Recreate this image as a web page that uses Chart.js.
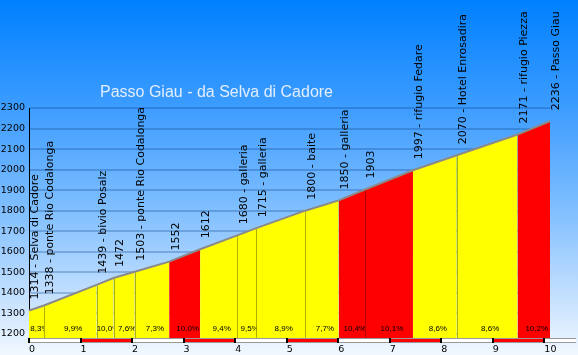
<!DOCTYPE html>
<html><head><meta charset="utf-8">
<script src="https://cdn.jsdelivr.net/npm/chart.js@4.4.1/dist/chart.umd.min.js"></script>
<style>html,body{margin:0;padding:0;background:#fff}#c{display:block}</style>
</head><body>
<canvas id="c" width="578" height="355"></canvas>
<script>
const TITLE = 'Passo Giau - da Selva di Cadore';
const km = [0, 0.29, 1.31, 1.64, 2.05, 2.72, 3.32, 4.04, 4.41, 5.36, 6.01, 6.52, 7.45, 8.30, 9.48, 10.11];
const altitude = [1314, 1338, 1439, 1472, 1503, 1552, 1612, 1680, 1715, 1800, 1850, 1903, 1997, 2070, 2171, 2236];
const placeNames = ['Selva di Cadore', 'ponte Rio Codalonga', 'bivio Posalz', '', 'ponte Rio Codalonga', '', '', 'galleria', 'galleria', 'baite', 'galleria', '', 'rifugio Fedare', 'Hotel Enrosadira', 'rifugio Piezza', 'Passo Giau'];
const gradients = ['8,3%', '9,9%', '10,0%', '7,6%', '7,3%', '10,0%', '9,4%', '9,5%', '8,9%', '7,7%', '10,4%', '10,1%', '8,6%', '8,6%', '10,2%'];
const steep = [false, false, false, false, false, true, false, false, false, false, true, true, false, false, true];
const yTicks = [1200, 1300, 1400, 1500, 1600, 1700, 1800, 1900, 2000, 2100, 2200, 2300];
const xTicks = [0, 1, 2, 3, 4, 5, 6, 7, 8, 9, 10];

const YELLOW = '#ffff00', RED = '#ff0000';
const pts = km.map((k, i) => ({ x: k, y: altitude[i] }));

const datasets = [{
  data: pts, borderColor: '#8a8a8a', borderWidth: 2, pointRadius: 0,
  fill: false, tension: 0, order: 0
}];
for (let i = 0; i < gradients.length; i++) {
  datasets.push({
    data: [pts[i], pts[i + 1]], backgroundColor: steep[i] ? RED : YELLOW,
    borderColor: 'transparent', borderWidth: 0, pointRadius: 0,
    fill: 'start', tension: 0, order: 1
  });
}

const decor = {
  id: 'decor',
  beforeDraw(chart) {
    const ctx = chart.ctx, W = chart.width, H = chart.height;
    const g = ctx.createLinearGradient(0, 0, 0, H);
    g.addColorStop(0, '#0080ff');
    g.addColorStop(0.3, '#3c9cff');
    g.addColorStop(0.6, '#82c0ff');
    g.addColorStop(0.85, '#c8e2ff');
    g.addColorStop(1, '#f2f8ff');
    ctx.save(); ctx.fillStyle = g; ctx.fillRect(0, 0, W, H); ctx.restore();
  },
  afterDatasetsDraw(chart) {
    const ctx = chart.ctx, xs = chart.scales.x, ys = chart.scales.y;
    const bottom = chart.chartArea.bottom;
    ctx.save();
    // boundary lines
    for (let i = 1; i < km.length - 1; i++) {
      const a = steep[i - 1], b = steep[i];
      if (a !== b) continue;
      const x = Math.round(xs.getPixelForValue(km[i])) + 0.5;
      const y = ys.getPixelForValue(altitude[i]) + 1;
      ctx.strokeStyle = a ? '#b80000' : '#b0b000';
      ctx.lineWidth = 1;
      ctx.beginPath(); ctx.moveTo(x, y); ctx.lineTo(x, bottom); ctx.stroke();
    }
    // distance bar
    const x0 = xs.getPixelForValue(0);
    ctx.fillStyle = '#ffffff';
    ctx.fillRect(x0, bottom, 576 - x0, 4);
    for (let k = 1; k < 10; k += 2) {
      const a = xs.getPixelForValue(k), b = xs.getPixelForValue(k + 1);
      ctx.fillStyle = RED; ctx.fillRect(a, bottom, b - a, 4);
    }
    ctx.strokeStyle = '#9a9a9a'; ctx.lineWidth = 1;
    ctx.beginPath(); ctx.moveTo(x0, bottom + 0.5); ctx.lineTo(576, bottom + 0.5);
    ctx.moveTo(x0, bottom + 4.5); ctx.lineTo(576, bottom + 4.5); ctx.stroke();
    ctx.fillStyle = '#000';
    xTicks.forEach(k => {
      const x = Math.round(xs.getPixelForValue(k));
      ctx.fillRect(x - 1, bottom, 2, 5);
    });
    // percentages
    ctx.font = '8px "Liberation Sans"';
    ctx.textAlign = 'center'; ctx.textBaseline = 'middle'; ctx.fillStyle = '#000';
    for (let i = 0; i < gradients.length; i++) {
      const a = xs.getPixelForValue(km[i]), b = xs.getPixelForValue(km[i + 1]);
      ctx.save();
      ctx.beginPath(); ctx.rect(a, 318, b - a, 18); ctx.clip();
      ctx.fillText(gradients[i], (a + b) / 2 + 3, 329);
      ctx.restore();
    }
    // vertical labels
    ctx.font = '11px "DejaVu Sans"';
    ctx.textAlign = 'left'; ctx.textBaseline = 'middle'; ctx.fillStyle = '#000';
    for (let i = 0; i < km.length; i++) {
      const x = xs.getPixelForValue(km[i]), y = ys.getPixelForValue(altitude[i]);
      const txt = placeNames[i] ? altitude[i] + ' - ' + placeNames[i] : String(altitude[i]);
      ctx.save();
      ctx.translate(x + 6.5, y - 11);
      ctx.rotate(-Math.PI / 2);
      ctx.fillText(txt, 0, 0);
      ctx.restore();
    }
    // title
    ctx.font = '16px "Liberation Sans"';
    ctx.fillStyle = '#e2edff';
    ctx.textAlign = 'left'; ctx.textBaseline = 'alphabetic';
    ctx.fillText(TITLE, 100, 97);
    ctx.restore();
  }
};

new Chart(document.getElementById('c'), {
  type: 'line',
  data: { datasets },
  options: {
    responsive: false, animation: false, devicePixelRatio: 1,
    layout: { padding: { left: 0, top: 108, right: 28, bottom: 0 } },
    plugins: { legend: { display: false }, tooltip: { enabled: false }, title: { display: false } },
    scales: {
      x: {
        type: 'linear', min: 0, max: km[km.length - 1],
        afterBuildTicks: s => { s.ticks = xTicks.map(v => ({ value: v })); },
        afterFit: s => { s.height = 17; },
        grid: { display: false, drawTicks: false },
        border: { display: false },
        ticks: { align: 'start', padding: 6, maxRotation: 0, autoSkip: false, color: '#000', font: { family: 'DejaVu Sans', size: 9.5 }, callback: v => String(v) }
      },
      y: {
        type: 'linear', min: 1180, max: 2300,
        afterBuildTicks: s => { s.ticks = yTicks.map(v => ({ value: v })); },
        afterFit: s => { s.width = 29; },
        grid: { color: 'rgba(0,50,120,0.25)', lineWidth: 2, drawTicks: false },
        border: { display: true, color: '#000', width: 1 },
        ticks: { padding: 4, autoSkip: false, color: '#000', font: { family: 'DejaVu Sans', size: 9.5 }, callback: v => String(v) }
      }
    }
  },
  plugins: [decor]
});
</script>
</body></html>
